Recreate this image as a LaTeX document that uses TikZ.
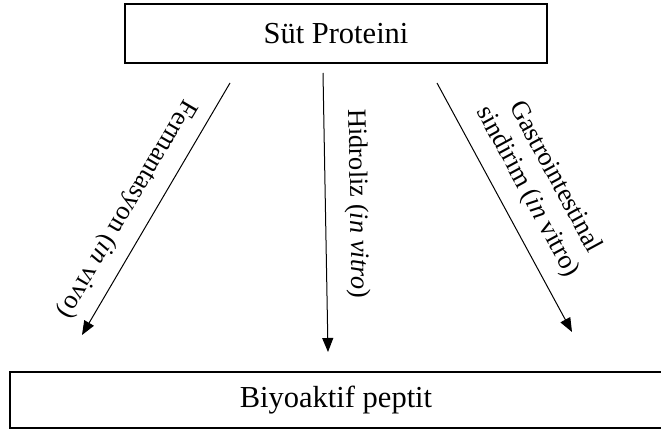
\documentclass[tikz,border=0pt]{standalone}
\usepackage{fontspec}
\setmainfont{Liberation Serif}
\usetikzlibrary{arrows.meta}

\begin{document}
\begin{tikzpicture}[
    x=1pt, y=-1pt,
    box/.style={rectangle, draw=black, line width=2.4pt, minimum height=59pt, inner sep=0pt, font=\fontsize{30.5}{36}\selectfont},
    flow/.style={-{Triangle[length=14pt, width=11pt]}, line width=1pt},
    lbl/.style={inner sep=0pt, font=\fontsize{26.5}{31}\selectfont}
  ]
  \useasboundingbox (0,0) rectangle (661,430);

  % Boxes
  \node[box, minimum width=422pt] (sut) at (336,33.5) {Süt Proteini};
  \node[box, minimum width=652pt, minimum height=56pt] (peptit) at (336,400) {Biyoaktif peptit};

  % Arrow ends
  \coordinate (ferm_a) at (230,83);
  \coordinate (ferm_b) at (82,335);
  \coordinate (hidro_a) at (323,73);
  \coordinate (hidro_b) at (328,352);
  \coordinate (gastro_a) at (437,83);
  \coordinate (gastro_b) at (572,332);

  % Routes from protein to peptide
  \draw[flow] (ferm_a) -- node[lbl, sloped, allow upside down, below=13pt, pos=0.55] {Fermantasyon (\textit{in} vivo)} (ferm_b);
  \draw[flow] (hidro_a) -- node[lbl, sloped, above=19pt, pos=0.47] {Hidroliz (\textit{in vitro})} (hidro_b);
  \draw[flow] (gastro_a) -- node[lbl, sloped, above=15pt, pos=0.49, align=center] {Gastrointestinal\\ sindirim (\textit{in} vitro)} (gastro_b);

\end{tikzpicture}
\end{document}
